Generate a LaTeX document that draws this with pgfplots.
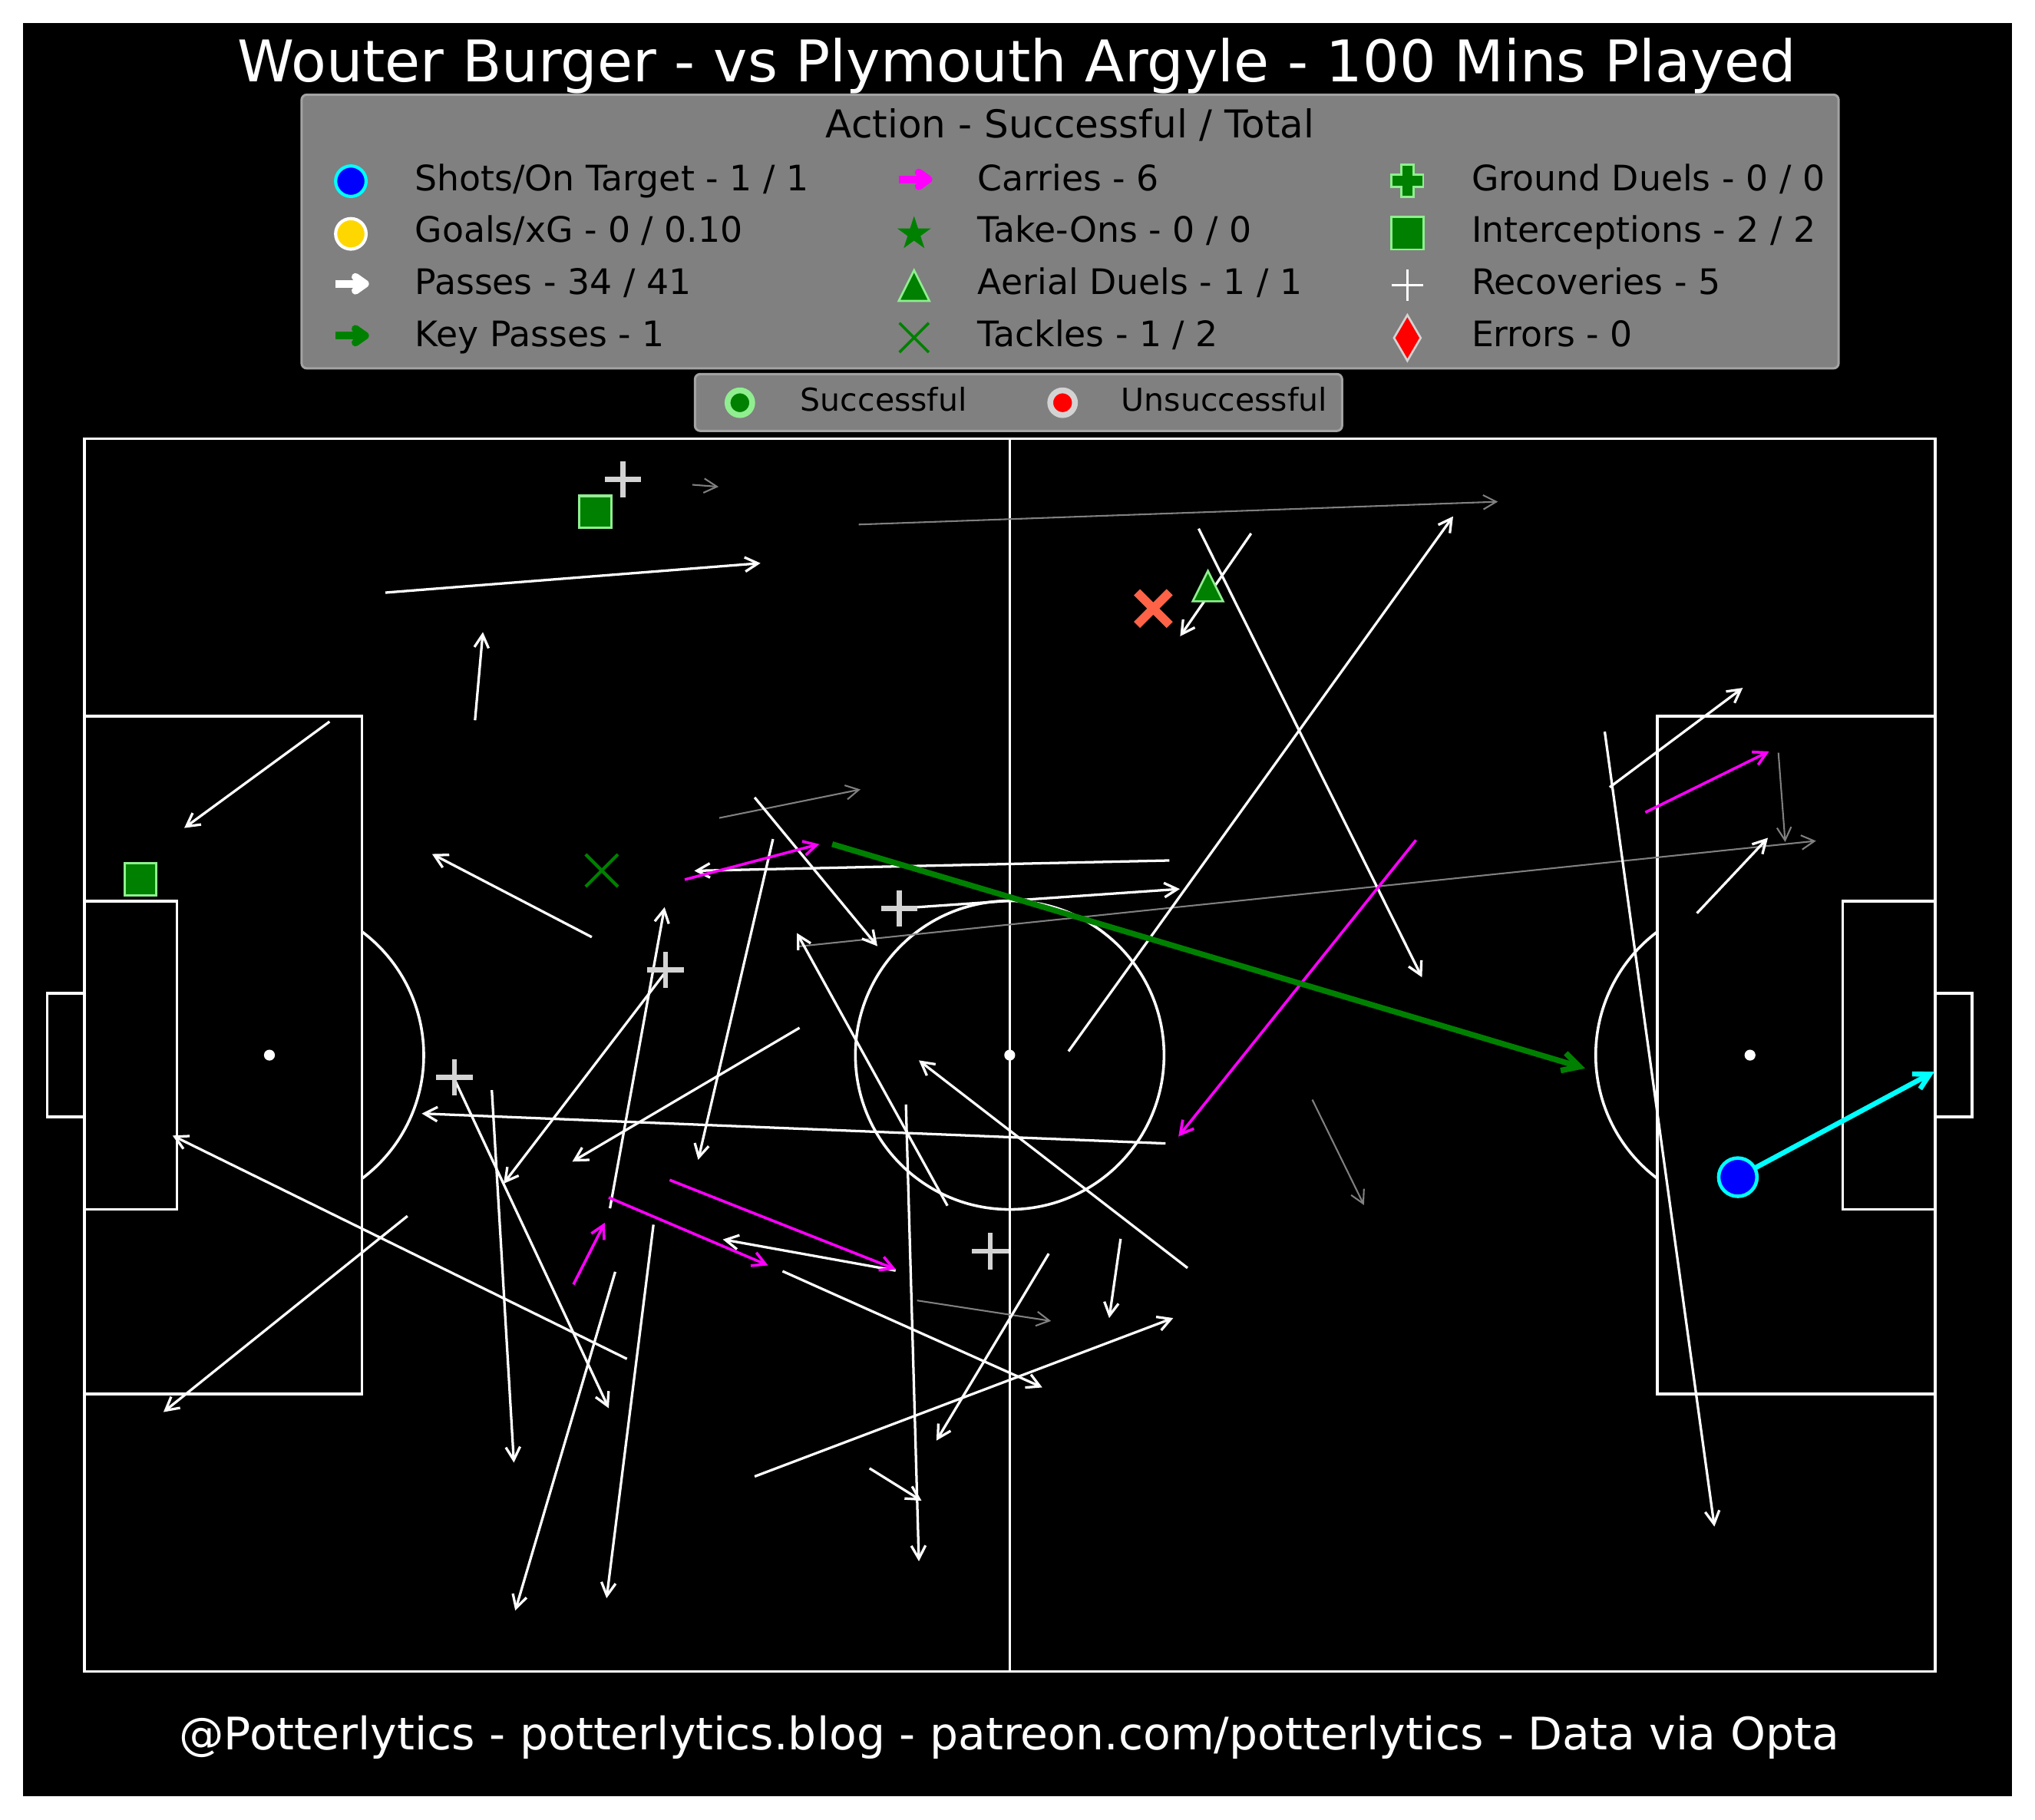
\documentclass[border=0pt]{standalone}
\usepackage{pgfplots}
\pgfplotsset{compat=1.18}
\usepackage{fontspec}
\setmainfont{DejaVu Sans}
\usetikzlibrary{arrows.meta}
\definecolor{lgreen}{HTML}{90EE90}
\definecolor{dgreen}{HTML}{008000}
\definecolor{tomato}{HTML}{FF6347}
\definecolor{lgray}{HTML}{D3D3D3}
\definecolor{gold}{HTML}{FFD700}
\definecolor{legfill}{HTML}{808080}
\definecolor{legedge}{HTML}{A3A3A3}
\definecolor{passgray}{HTML}{808080}
\definecolor{mag}{HTML}{FF00FF}
\definecolor{cyn}{HTML}{00FFFF}
\definecolor{blu}{HTML}{0000FF}
\definecolor{rd}{HTML}{FF0000}
\pgfdeclareplotmark{mtri}{%
  \pgfpathmoveto{\pgfqpoint{0pt}{\pgfplotmarksize}}%
  \pgfpathlineto{\pgfqpoint{\pgfplotmarksize}{-\pgfplotmarksize}}%
  \pgfpathlineto{\pgfqpoint{-\pgfplotmarksize}{-\pgfplotmarksize}}%
  \pgfpathclose\pgfusepathqfillstroke}
\tikzset{
  pitch/.style={white, line width=0.6pt},
  passw/.style={white, line width=0.55pt, -{Straight Barb[length=1mm,width=1.1mm]}},
  passg/.style={passgray, line width=0.35pt, -{Straight Barb[length=1mm,width=1.1mm]}},
  carry/.style={mag, line width=0.6pt, -{Straight Barb[length=1mm,width=1.1mm]}},
  keyp/.style={dgreen, line width=1.25pt, -{Straight Barb[length=1.3mm,width=1.4mm]}},
  shotl/.style={cyn, line width=1.1pt, -{Straight Barb[length=1.2mm,width=1.3mm]}},
  legarrow/.style={line width=1.68pt, line cap=butt, line join=round},
}
\newcommand\arr[5]{\addplot[#1] coordinates {(#2,#3) (#4,#5)};}
\newcommand\legarr[3]{% color, left x, center y
  \draw[legarrow,#1] (#2,#3)--++(22.5,0);
  \draw[legarrow,#1,line cap=round] (#2+15.3,#3-5.3)--(#2+22.8,#3)--(#2+15.3,#3+5.3);}
\begin{document}
\begin{tikzpicture}
\fill[white] (0,0) rectangle (15.68,-14.018);
\fill[black] (0.18,-0.18) rectangle (15.50,-13.84);
\begin{axis}[at={(0.65cm,-3.38cm)}, anchor=north west, scale only axis,
  width=14.26cm, height=9.50cm, xmin=0, xmax=120, ymin=0, ymax=80,
  y dir=reverse, hide axis, clip=false]
% pitch
\draw[pitch] (axis cs:0,0) rectangle (axis cs:120,80);
\draw[pitch] (axis cs:60,0) -- (axis cs:60,80);
\draw[pitch] (axis cs:0,18) -- (axis cs:18,18) -- (axis cs:18,62) -- (axis cs:0,62);
\draw[pitch] (axis cs:120,18) -- (axis cs:102,18) -- (axis cs:102,62) -- (axis cs:120,62);
\draw[pitch] (axis cs:0,30) -- (axis cs:6,30) -- (axis cs:6,50) -- (axis cs:0,50);
\draw[pitch] (axis cs:120,30) -- (axis cs:114,30) -- (axis cs:114,50) -- (axis cs:120,50);
\draw[pitch] (axis cs:0,36) -- (axis cs:-2.4,36) -- (axis cs:-2.4,44) -- (axis cs:0,44);
\draw[pitch] (axis cs:120,36) -- (axis cs:122.4,36) -- (axis cs:122.4,44) -- (axis cs:120,44);
\draw[pitch] (axis cs:60,40) circle[radius=1.189cm];
\draw[pitch] (axis cs:12,40) ++(-53.13:1.189cm) arc[start angle=-53.13, end angle=53.13, radius=1.189cm];
\draw[pitch] (axis cs:108,40) ++(126.87:1.189cm) arc[start angle=126.87, end angle=233.13, radius=1.189cm];
\fill[white] (axis cs:60,40) circle[radius=0.042cm];
\fill[white] (axis cs:12,40) circle[radius=0.042cm];
\fill[white] (axis cs:108,40) circle[radius=0.042cm];
% unsuccessful passes
\arr{passg}{39.42}{2.99}{41.12}{3.12}
\arr{passg}{50.21}{5.57}{91.65}{4.09}
\arr{passg}{41.17}{24.61}{50.32}{22.76}
\arr{passg}{46.28}{32.95}{112.28}{26.10}
\arr{passg}{109.84}{20.38}{110.28}{26.17}
\arr{passg}{79.62}{42.89}{82.97}{49.73}
\arr{passg}{53.99}{55.92}{62.68}{57.25}
% successful passes
\arr{passw}{19.52}{9.99}{43.84}{8.08}
\arr{passw}{25.33}{18.27}{25.84}{12.55}
\arr{passw}{15.90}{18.36}{6.48}{25.26}
\arr{passw}{32.90}{32.34}{22.55}{26.95}
\arr{passw}{70.35}{27.37}{39.55}{28.04}
\arr{passw}{52.85}{30.48}{71.03}{29.22}
\arr{passw}{43.46}{23.28}{51.42}{32.93}
\arr{passw}{44.65}{25.98}{39.80}{46.79}
\arr{passw}{46.37}{38.23}{31.64}{46.91}
\arr{passw}{34.08}{49.94}{37.62}{30.40}
\arr{passw}{37.62}{34.69}{27.18}{48.34}
\arr{passw}{23.98}{41.52}{34.00}{62.91}
\arr{passw}{26.42}{42.27}{27.85}{66.44}
\arr{passw}{70.10}{45.73}{21.88}{43.79}
\arr{passw}{35.18}{59.71}{5.72}{45.22}
\arr{passw}{20.95}{50.44}{5.13}{63.16}
\arr{passw}{34.42}{54.06}{27.94}{76.04}
\arr{passw}{36.90}{51.00}{33.86}{75.24}
\arr{passw}{55.96}{49.77}{46.20}{32.08}
\arr{passw}{71.53}{53.81}{54.11}{40.34}
\arr{passw}{53.27}{43.20}{54.11}{72.84}
\arr{passw}{52.60}{53.98}{41.40}{51.96}
\arr{passw}{45.27}{54.02}{62.11}{61.56}
\arr{passw}{62.53}{52.88}{55.25}{65.01}
\arr{passw}{67.19}{51.92}{66.45}{57.06}
\arr{passw}{43.46}{67.34}{70.60}{57.06}
\arr{passw}{50.91}{66.81}{54.28}{68.91}
\arr{passw}{63.81}{39.75}{88.75}{5.04}
\arr{passw}{72.25}{5.84}{86.73}{34.95}
\arr{passw}{75.65}{6.15}{71.05}{12.82}
\arr{passw}{98.90}{22.62}{107.53}{16.17}
\arr{passw}{98.58}{19.01}{105.69}{70.59}
\arr{passw}{104.56}{30.79}{109.16}{25.90}
% carries
\arr{carry}{38.93}{28.61}{47.65}{26.31}
\arr{carry}{86.34}{26.05}{70.94}{45.28}
\arr{carry}{101.21}{24.25}{109.24}{20.29}
\arr{carry}{34.00}{49.24}{44.33}{53.64}
\arr{carry}{37.95}{48.10}{52.62}{53.90}
\arr{carry}{31.71}{54.88}{33.75}{50.87}
% key pass
\arr{keyp}{48.49}{26.31}{97.31}{40.86}
% shot
\arr{shotl}{107.21}{47.92}{119.96}{41.07}
\addplot[only marks, mark=*, mark size=4.2pt, mark options={fill=blu, draw=cyn, line width=0.77pt}] coordinates {(107.21,47.92)};
% interceptions
\addplot[only marks, mark=square*, mark size=3.51pt, mark options={fill=dgreen, draw=lgreen, line width=0.54pt}] coordinates {(33.13,4.75) (3.64,28.60)};
% recoveries
\addplot[only marks, mark=+, mark size=3.98pt, mark options={draw=lgray, line width=1.1pt}] coordinates {(34.92,2.64) (52.84,30.47) (37.68,34.48) (24.00,41.43) (58.74,52.72)};
% tackles
\addplot[only marks, mark=x, mark size=5.0pt, mark options={draw=dgreen, line width=0.7pt}] coordinates {(33.55,28.02)};
\addplot[only marks, mark=x, mark size=5.07pt, mark options={draw=tomato, line width=1.9pt}] coordinates {(69.31,11.02)};
% aerial duel
\addplot[only marks, mark=mtri, mark size=3.33pt, mark options={fill=dgreen, draw=lgreen, line width=0.45pt}] coordinates {(72.85,9.57)};
\end{axis}
\begin{scope}[x=0.01cm, y=-0.01cm]
\node[anchor=base, white, inner sep=0, font=\fontsize{12.6}{15}\selectfont] at (784,63) {Wouter Burger - vs Plymouth Argyle - 100 Mins Played};
\node[anchor=base, white, inner sep=0, font=\fontsize{9.83}{12}\selectfont] at (778,1349) {@Potterlytics - potterlytics.blog - patreon.com/potterlytics - Data via Opta};
% main legend
\draw[fill=legfill, draw=legedge, line width=0.5pt, rounded corners=0.04cm] (232.5,73) rectangle (1417.5,284);
\node[anchor=base, inner sep=0, font=\fontsize{8.42}{10}\selectfont] at (825,106.5) {Action - Successful / Total};
\begin{scope}[font=\fontsize{7.7}{9}\selectfont]
\node[anchor=base west, inner sep=0] at (319.2,146.9) {Shots/On Target - 1 / 1};
\node[anchor=base west, inner sep=0] at (319.2,187.0) {Goals/xG - 0 / 0.10};
\node[anchor=base west, inner sep=0] at (319.2,227.1) {Passes - 34 / 41};
\node[anchor=base west, inner sep=0] at (319.2,267.2) {Key Passes - 1};
\node[anchor=base west, inner sep=0] at (753.2,146.9) {Carries - 6};
\node[anchor=base west, inner sep=0] at (753.2,187.0) {Take-Ons - 0 / 0};
\node[anchor=base west, inner sep=0] at (753.2,227.1) {Aerial Duels - 1 / 1};
\node[anchor=base west, inner sep=0] at (753.2,267.2) {Tackles - 1 / 2};
\node[anchor=base west, inner sep=0] at (1133.8,146.9) {Ground Duels - 0 / 0};
\node[anchor=base west, inner sep=0] at (1133.8,187.0) {Interceptions - 2 / 2};
\node[anchor=base west, inner sep=0] at (1133.8,227.1) {Recoveries - 5};
\node[anchor=base west, inner sep=0] at (1133.8,267.2) {Errors - 0};
\end{scope}
% legend symbols col 1
\filldraw[fill=blu, draw=cyn, line width=0.7pt] (270.5,139.7) circle[radius=0.1175cm];
\filldraw[fill=gold, draw=white, line width=0.7pt] (270.5,180.3) circle[radius=0.1175cm];
\legarr{white}{258.7}{218.8}
\legarr{dgreen}{258.7}{258.8}
% col 2
\legarr{mag}{693}{138.3}
\fill[dgreen, shift={(704.7,180.3)}] (0,-13.7)--(-3.07,-4.23)--(-13.03,-4.23)--(-4.97,1.62)--(-8.05,11.08)--(0,5.23)--(8.05,11.08)--(4.97,1.62)--(13.03,-4.23)--(3.07,-4.23)--cycle;
\filldraw[fill=dgreen, draw=lgreen, line width=0.45pt] (704.7,208.4)--(716.5,232)--(692.9,232)--cycle;
\draw[dgreen, line width=0.6pt] (693.4,249)--(716,271.6) (693.4,271.6)--(716,249);
% col 3
\filldraw[fill=dgreen, draw=lgreen, line width=0.45pt, shift={(1085,139.4)}] (-4.8,-12.3)--(4.8,-12.3)--(4.8,-4.8)--(12.3,-4.8)--(12.3,4.8)--(4.8,4.8)--(4.8,12.3)--(-4.8,12.3)--(-4.8,4.8)--(-12.3,4.8)--(-12.3,-4.8)--(-4.8,-4.8)--cycle;
\filldraw[fill=dgreen, draw=lgreen, line width=0.45pt] (1072.5,167.3) rectangle (1097.5,192.3);
\draw[white, line width=0.4pt] (1073,219.8)--(1097,219.8) (1085,207.8)--(1085,231.8);
\filldraw[fill=rd, draw=lgray, line width=0.45pt] (1085,242.9)--(1095.3,260.5)--(1085,278.1)--(1074.7,260.5)--cycle;
% second legend
\draw[fill=legfill, draw=legedge, line width=0.5pt, rounded corners=0.04cm] (535.8,288.4) rectangle (1034.7,332.2);
\filldraw[fill=dgreen, draw=lgreen, line width=1.28pt] (570.4,310.5) circle[radius=0.095cm];
\filldraw[fill=rd, draw=lgray, line width=1.28pt] (819.2,310.5) circle[radius=0.095cm];
\node[anchor=base west, inner sep=0, font=\fontsize{6.9}{8}\selectfont] at (616.5,317) {Successful};
\node[anchor=base west, inner sep=0, font=\fontsize{6.9}{8}\selectfont] at (863.8,317) {Unsuccessful};
\end{scope}
\end{tikzpicture}
\end{document}
